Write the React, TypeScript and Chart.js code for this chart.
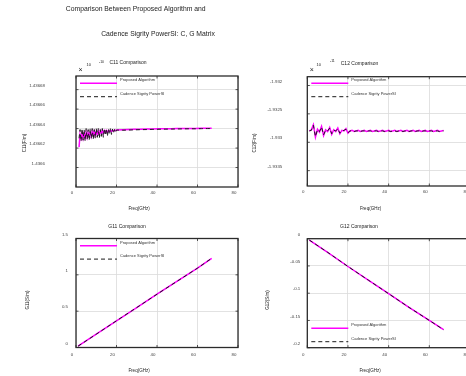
import React, { useEffect, useRef } from "react";
import { Chart, registerables } from "chart.js";

Chart.register(...registerables);

// ---------------- DATA ----------------
const xTickValues = [0, 20, 40, 60, 80];

const freqC11 = [
  1.5, 2, 2.5, 3, 3.5, 4, 4.5, 5, 5.5, 6, 6.5, 7, 7.5, 8, 8.5, 9, 9.5, 10, 10.5, 11,
  11.5, 12, 12.5, 13, 13.5, 14, 14.5, 15, 15.5, 16, 16.5, 17, 17.5, 18, 18.5, 19, 19.5, 20,
  23, 26, 29, 32, 35, 38, 41, 44, 47, 50, 53, 56, 59, 62, 65, 67,
];
const c11Proposed = [
  1.436621, 1.436634, 1.43663, 1.436635, 1.43663, 1.436635, 1.436631, 1.436636, 1.436631, 1.436636,
  1.436632, 1.436636, 1.436632, 1.436637, 1.436633, 1.436637, 1.436633, 1.436637, 1.436634, 1.4366375,
  1.436634, 1.4366375, 1.436635, 1.436638, 1.436635, 1.436638, 1.436636, 1.436638, 1.436636, 1.436638,
  1.436637, 1.4366382, 1.436637, 1.4366383, 1.4366375, 1.4366384, 1.436638, 1.4366385,
  1.4366388, 1.436639, 1.4366392, 1.4366393, 1.4366395, 1.4366396, 1.4366397, 1.4366398, 1.4366399, 1.43664,
  1.4366401, 1.4366401, 1.4366402, 1.4366403, 1.4366403, 1.4366404,
];
const c11Cadence = [
  1.43663, 1.436639, 1.436627, 1.43664, 1.436628, 1.436639, 1.436627, 1.43664, 1.436629, 1.436639,
  1.436628, 1.43664, 1.43663, 1.43664, 1.436629, 1.436639, 1.43663, 1.43664, 1.436631, 1.43664,
  1.43663, 1.436639, 1.436632, 1.43664, 1.436631, 1.43664, 1.436633, 1.43664, 1.436632, 1.4366395,
  1.436634, 1.43664, 1.436634, 1.4366395, 1.436635, 1.436639, 1.436636, 1.4366385,
  1.4366383, 1.4366385, 1.4366387, 1.4366389, 1.436639, 1.4366392, 1.4366393, 1.4366394, 1.4366395, 1.4366396,
  1.4366397, 1.4366398, 1.4366398, 1.4366399, 1.43664, 1.43664,
];
const c11YTicks = [1.4366, 1.43662, 1.43664, 1.43666, 1.43668];

const freqC12 = [
  1, 2, 3, 4, 5, 6, 7, 8, 9, 10, 11, 12, 13, 14, 15, 16, 17, 18, 19, 20,
  21, 22, 23, 24, 25, 26, 27, 28, 29, 30, 31, 32, 33, 34, 35, 36, 37, 38, 39, 40,
  41, 42, 43, 44, 45, 46, 47, 48, 49, 50, 51, 52, 53, 54, 55, 56, 57, 58, 59, 60,
  61, 62, 63, 64, 65, 66, 67,
];
const c12Proposed = [
  -1.9328, -1.93278, -1.93269, -1.93291, -1.93277, -1.93282, -1.93272, -1.93288, -1.93278, -1.93281,
  -1.93274, -1.93286, -1.93278, -1.93281, -1.93275, -1.93285, -1.93279, -1.9328, -1.93276, -1.93284,
  -1.9328, -1.93279, -1.93281, -1.9328, -1.93279, -1.93281, -1.9328, -1.93279, -1.93281, -1.9328,
  -1.93279, -1.93281, -1.9328, -1.93279, -1.93281, -1.9328, -1.93279, -1.93281, -1.9328, -1.93279,
  -1.93281, -1.9328, -1.93279, -1.93281, -1.9328, -1.93279, -1.93281, -1.9328, -1.93279, -1.93281,
  -1.9328, -1.93279, -1.93281, -1.9328, -1.93279, -1.93281, -1.9328, -1.93279, -1.93281, -1.9328,
  -1.93279, -1.93281, -1.9328, -1.93279, -1.93281, -1.9328, -1.93279,
];
const c12Cadence = [
  -1.9328, -1.93279, -1.9327, -1.9329, -1.93278, -1.93281, -1.93273, -1.93287, -1.93279, -1.9328,
  -1.93275, -1.93285, -1.93279, -1.9328, -1.93276, -1.93284, -1.9328, -1.93279, -1.93277, -1.93283,
  -1.9328, -1.9328, -1.93281, -1.9328, -1.9328, -1.93281, -1.9328, -1.9328, -1.93281, -1.9328,
  -1.9328, -1.93281, -1.9328, -1.9328, -1.93281, -1.9328, -1.9328, -1.93281, -1.9328, -1.9328,
  -1.93281, -1.9328, -1.9328, -1.93281, -1.9328, -1.9328, -1.93281, -1.9328, -1.9328, -1.93281,
  -1.9328, -1.9328, -1.93281, -1.9328, -1.9328, -1.93281, -1.9328, -1.9328, -1.93281, -1.9328,
  -1.9328, -1.93281, -1.9328, -1.9328, -1.93281, -1.9328, -1.9328,
];
const c12YTicks = [-1.9335, -1.933, -1.9325, -1.932];

const freqG = [1, 10, 20, 30, 40, 50, 60, 67];
const g11Proposed = [0.018, 0.183, 0.368, 0.55, 0.733, 0.913, 1.092, 1.228];
const g11Cadence = [0.018, 0.183, 0.368, 0.55, 0.733, 0.913, 1.092, 1.228];
const g11YTicks = [0, 0.5, 1, 1.5];

const g12Proposed = [-0.0025, -0.025, -0.051, -0.076, -0.101, -0.126, -0.15, -0.167];
const g12Cadence = [-0.0025, -0.025, -0.051, -0.076, -0.101, -0.126, -0.15, -0.167];
const g12YTicks = [-0.2, -0.15, -0.1, -0.05, 0];

const seriesLabels = ["Proposed Algorithm", "Cadence Sigrity PowerSI"];

// ---------------- LAYOUT / STYLE ----------------
const FONT = '"Liberation Sans", Arial, Helvetica, sans-serif';
const CW = 480;
const CH = 376;

type Txt = { t: string; x: number; y: number; s: number; align?: CanvasTextAlign; rot?: boolean };
type Panel = {
  L: number; R: number; T: number; B: number;
  freq: number[]; prop: number[]; cad: number[];
  yMin: number; yMax: number; yTicks: number[]; yPad: number; xPad: number;
  legendY: number;
  texts: Txt[];
};

const PANELS: Panel[] = [
  {
    L: 76, R: 238, T: 76, B: 187,
    freq: freqC11, prop: c11Proposed, cad: c11Cadence,
    yMin: 1.43658, yMax: 1.436694, yTicks: c11YTicks, yPad: 31, xPad: 3,
    legendY: 83.3,
    texts: [
      { t: "Comparison Between Proposed Algorithm and", x: 135.7, y: 9, s: 6.8 },
      { t: "Cadence Sigrity PowerSI: C, G Matrix", x: 158, y: 34.3, s: 6.8 },
      { t: "C11 Comparison", x: 128, y: 63, s: 5 },
      { t: "\u00D7", x: 80.5, y: 70, s: 7 },
      { t: "10", x: 86.5, y: 65, s: 4, align: "left" },
      { t: "-10", x: 99, y: 62, s: 3.5, align: "left" },
      { t: "Freq(GHz)", x: 139, y: 209, s: 4.5 },
      { t: "C11(F/m)", x: 25, y: 143, s: 4.5, rot: true },
    ],
  },
  {
    L: 307.3, R: 470, T: 76.7, B: 186,
    freq: freqC12, prop: c12Proposed, cad: c12Cadence,
    yMin: -1.93377, yMax: -1.931845, yTicks: c12YTicks, yPad: 25, xPad: 3,
    legendY: 83.3,
    texts: [
      { t: "C12 Comparison", x: 359.5, y: 63.3, s: 5 },
      { t: "\u00D7", x: 311.7, y: 70, s: 7 },
      { t: "10", x: 316.5, y: 64.7, s: 4, align: "left" },
      { t: "-11", x: 330, y: 60.7, s: 3.5, align: "left" },
      { t: "Freq(GHz)", x: 370.5, y: 209, s: 4.5 },
      { t: "C12(F/m)", x: 255, y: 143, s: 4.5, rot: true },
    ],
  },
  {
    L: 76, R: 238, T: 238.5, B: 347.5,
    freq: freqG, prop: g11Proposed, cad: g11Cadence,
    yMin: 0, yMax: 1.5, yTicks: g11YTicks, yPad: 8, xPad: 4.5,
    legendY: 245.7,
    texts: [
      { t: "G11 Comparison", x: 127, y: 226.3, s: 5 },
      { t: "Freq(GHz)", x: 139, y: 370.7, s: 4.5 },
      { t: "G11(S/m)", x: 28, y: 300, s: 4.5, rot: true },
    ],
  },
  {
    L: 307.3, R: 470, T: 238.7, B: 347.7,
    freq: freqG, prop: g12Proposed, cad: g12Cadence,
    yMin: -0.2, yMax: 0, yTicks: g12YTicks, yPad: 7, xPad: 4.5,
    legendY: 328.3,
    texts: [
      { t: "G12 Comparison", x: 359, y: 226.3, s: 5 },
      { t: "Freq(GHz)", x: 370, y: 370.7, s: 4.5 },
      { t: "G12(S/m)", x: 268, y: 300, s: 4.5, rot: true },
    ],
  },
];

const zip = (xs: number[], ys: number[]) => xs.map((x, i) => ({ x, y: ys[i] }));

function makeDecor(p: Panel) {
  return {
    id: "decor",
    afterDraw(chart: any) {
      const ctx: CanvasRenderingContext2D = chart.ctx;
      const a = chart.chartArea;
      const xs = chart.scales.x;
      const ys = chart.scales.y;
      ctx.save();
      // frame
      ctx.strokeStyle = "#2b2b2b";
      ctx.lineWidth = 1.3;
      ctx.setLineDash([]);
      ctx.strokeRect(a.left, a.top, a.right - a.left, a.bottom - a.top);
      // inward tick marks
      ctx.lineWidth = 0.8;
      ctx.beginPath();
      xTickValues.forEach((v) => {
        const px = xs.getPixelForValue(v);
        ctx.moveTo(px, a.bottom);
        ctx.lineTo(px, a.bottom - 2.5);
        ctx.moveTo(px, a.top);
        ctx.lineTo(px, a.top + 2.5);
      });
      p.yTicks.forEach((v) => {
        const py = ys.getPixelForValue(v);
        ctx.moveTo(a.left, py);
        ctx.lineTo(a.left + 2.5, py);
        ctx.moveTo(a.right, py);
        ctx.lineTo(a.right - 2.5, py);
      });
      ctx.stroke();
      // legend
      chart.data.datasets.forEach((ds: any, i: number) => {
        const y = p.legendY + i * 13.4;
        ctx.strokeStyle = ds.borderColor;
        ctx.lineWidth = ds.borderWidth;
        ctx.setLineDash(ds.borderDash || []);
        ctx.beginPath();
        ctx.moveTo(a.left + 4, y);
        ctx.lineTo(a.left + 41, y);
        ctx.stroke();
        ctx.setLineDash([]);
        ctx.fillStyle = "#333";
        ctx.font = `4px ${FONT}`;
        ctx.textAlign = "left";
        ctx.textBaseline = "middle";
        ctx.fillText(ds.label, a.left + 44, y - 3.3);
      });
      // texts
      p.texts.forEach((tx) => {
        ctx.fillStyle = "#222";
        ctx.font = `${tx.s}px ${FONT}`;
        ctx.textAlign = tx.align || "center";
        ctx.textBaseline = "middle";
        if (tx.rot) {
          ctx.save();
          ctx.translate(tx.x, tx.y);
          ctx.rotate(-Math.PI / 2);
          ctx.fillText(tx.t, 0, 0);
          ctx.restore();
        } else {
          ctx.fillText(tx.t, tx.x, tx.y);
        }
      });
      ctx.restore();
    },
  };
}

function makeChart(canvas: HTMLCanvasElement, p: Panel) {
  const tickFont = { family: FONT, size: 4.4 };
  return new Chart(canvas, {
    type: "line",
    data: {
      datasets: [
        {
          label: seriesLabels[0],
          data: zip(p.freq, p.prop),
          borderColor: "#ff00ff",
          borderWidth: 1.5,
          pointRadius: 0,
          tension: 0,
          order: 1,
        },
        {
          label: seriesLabels[1],
          data: zip(p.freq, p.cad),
          borderColor: "#1a1a1a",
          borderWidth: 1,
          borderDash: [4, 3],
          pointRadius: 0,
          tension: 0,
          order: 0,
        },
      ],
    },
    options: {
      responsive: false,
      animation: false,
      devicePixelRatio: 1,
      layout: { padding: { left: 0, right: CW - p.R, top: p.T, bottom: CH - p.B - 20 } },
      scales: {
        x: {
          type: "linear",
          min: 0,
          max: 80,
          afterFit: (s: any) => { s.height = 20; },
          afterBuildTicks: (s: any) => { s.ticks = xTickValues.map((v) => ({ value: v })); },
          grid: { color: "#dadada", lineWidth: 0.8, drawTicks: false },
          border: { display: false },
          ticks: {
            padding: p.xPad, labelOffset: -4, font: tickFont, color: "#444",
            maxRotation: 0, autoSkip: false, callback: (v: any) => String(v),
          },
        },
        y: {
          type: "linear",
          min: p.yMin,
          max: p.yMax,
          afterFit: (s: any) => { s.width = p.L; },
          afterBuildTicks: (s: any) => { s.ticks = p.yTicks.map((v) => ({ value: v })); },
          grid: { color: "#dadada", lineWidth: 0.8, drawTicks: false },
          border: { display: false },
          ticks: {
            padding: p.yPad, labelOffset: -4, font: tickFont, color: "#444",
            autoSkip: false, callback: (v: any) => String(v),
          },
        },
      },
      plugins: { legend: { display: false }, tooltip: { enabled: false }, title: { display: false } },
    } as any,
    plugins: [makeDecor(p)],
  });
}

export default function App() {
  const refs = useRef<(HTMLCanvasElement | null)[]>([]);
  useEffect(() => {
    const charts = PANELS.map((p, i) => makeChart(refs.current[i] as HTMLCanvasElement, p));
    return () => charts.forEach((c) => c.destroy());
  }, []);
  return (
    <div style={{ position: "fixed", left: 0, top: 0, width: 466, height: 376, overflow: "hidden", background: "#fff" }}>
      {PANELS.map((_, i) => (
        <canvas
          key={i}
          ref={(el) => { refs.current[i] = el; }}
          width={CW}
          height={CH}
          style={{ position: "absolute", left: 0, top: 0 }}
        />
      ))}
    </div>
  );
}
